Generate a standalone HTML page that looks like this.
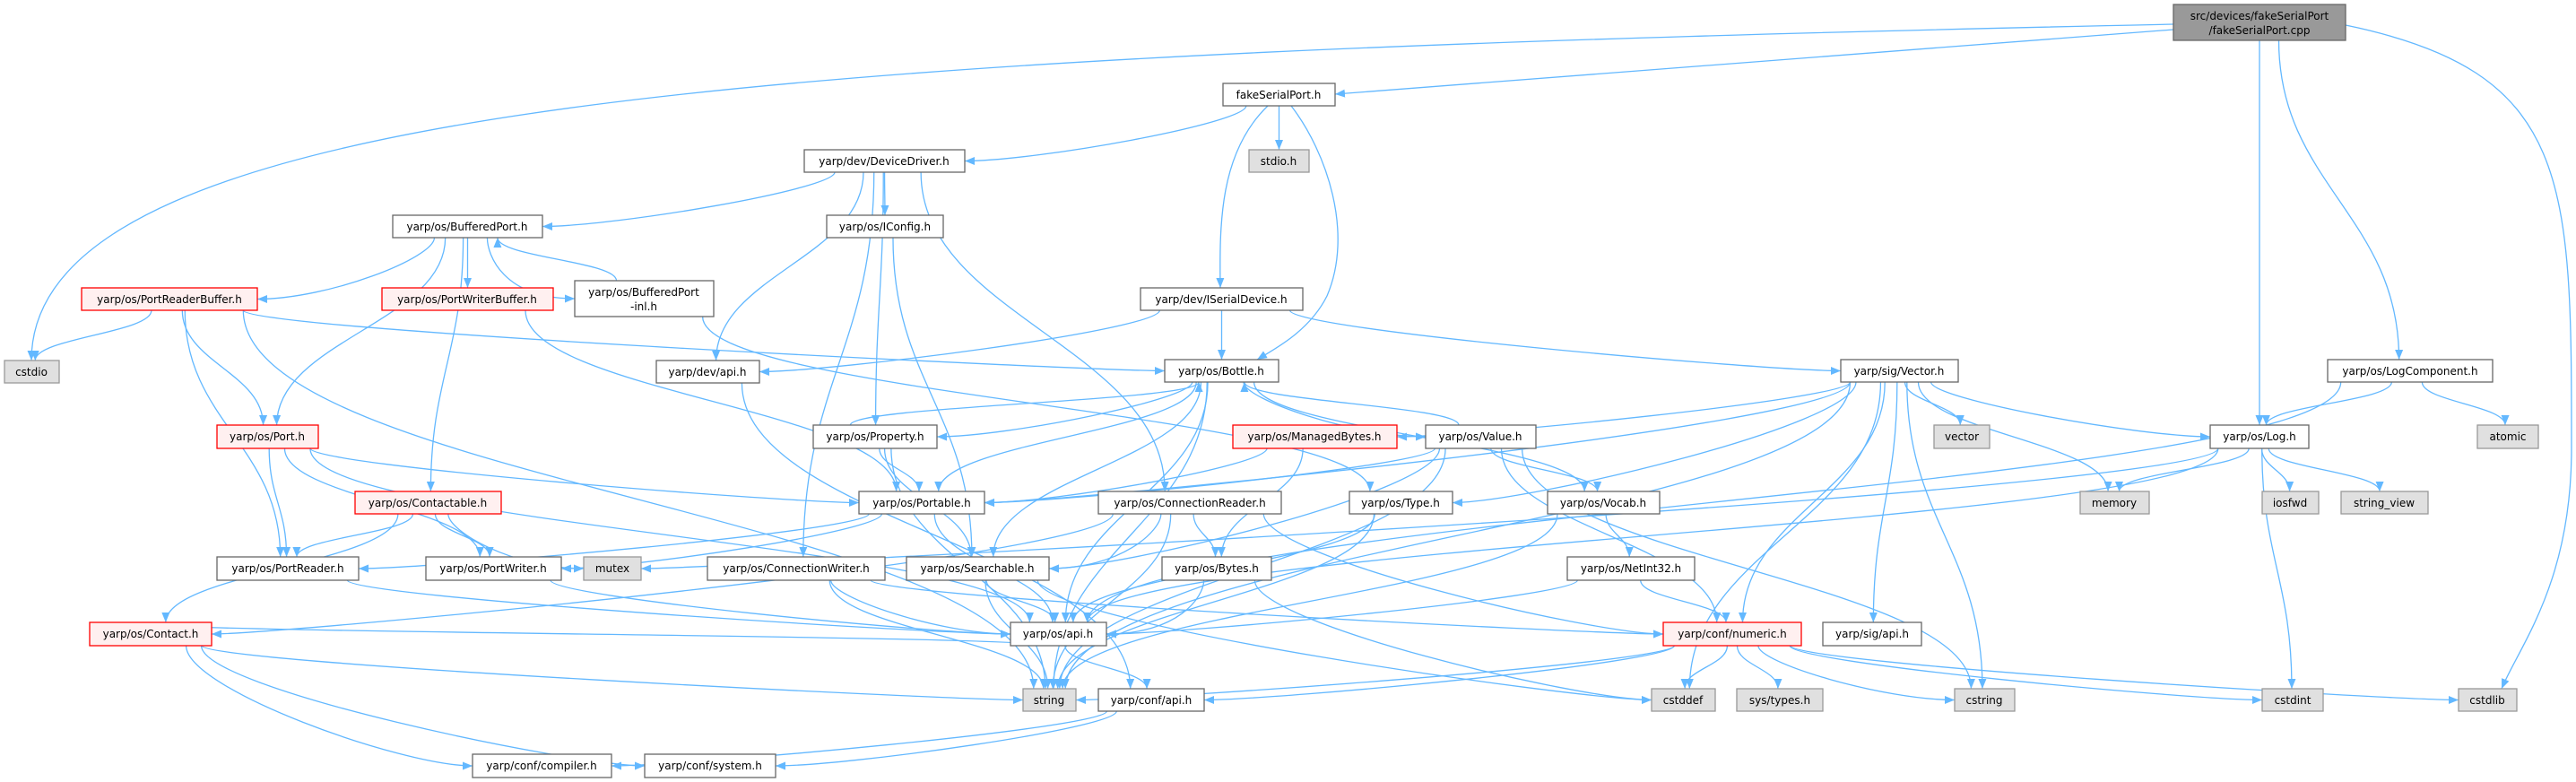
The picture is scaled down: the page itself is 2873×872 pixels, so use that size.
<!DOCTYPE html>
<html><head><meta charset="utf-8">
<style>
html,body{margin:0;padding:0;background:#fff;}
svg{display:block;}
text{font-family:"DejaVu Sans","Liberation Sans",sans-serif;font-size:12px;fill:#000;text-anchor:middle;}
.w{fill:#fff;stroke:#666;stroke-width:1.3;}
.g{fill:#e0e0e0;stroke:#999;stroke-width:1.3;}
.r{fill:#fff0f0;stroke:#f00;stroke-width:1.3;}
.root{fill:#999;stroke:#666;stroke-width:1.3;}
#edges path{fill:none;stroke:#63b8ff;stroke-width:1.3;}
</style></head>
<body>
<svg id="s" width="2873" height="872" viewBox="0 0 2873 872" xmlns="http://www.w3.org/2000/svg">
<defs><marker id="a" markerWidth="11" markerHeight="9" refX="11" refY="4.5" orient="auto" markerUnits="userSpaceOnUse"><path d="M0,0L11,4.5L0,9z" fill="#63b8ff"/></marker></defs>
<g id="edges"></g>
<g id="nodes">
<rect class="root" x="2424" y="5" width="192" height="40"/><text x="2520" y="22">src/devices/fakeSerialPort</text><text x="2520" y="38">/fakeSerialPort.cpp</text>
<rect class="g" x="5" y="402" width="61" height="25"/><text x="35" y="419">cstdio</text>
<rect class="w" x="1364" y="93" width="125" height="25"/><text x="1426" y="110">fakeSerialPort.h</text>
<rect class="g" x="1393" y="167" width="67" height="25"/><text x="1426" y="184">stdio.h</text>
<rect class="w" x="897" y="167" width="179" height="25"/><text x="986" y="184">yarp/dev/DeviceDriver.h</text>
<rect class="w" x="1272" y="321" width="181" height="25"/><text x="1362" y="338">yarp/dev/ISerialDevice.h</text>
<rect class="w" x="438" y="240" width="167" height="25"/><text x="521" y="257">yarp/os/BufferedPort.h</text>
<rect class="w" x="922" y="240" width="130" height="25"/><text x="987" y="257">yarp/os/IConfig.h</text>
<rect class="r" x="91" y="321" width="196" height="25"/><text x="189" y="338">yarp/os/PortReaderBuffer.h</text>
<rect class="r" x="426" y="321" width="191" height="25"/><text x="521" y="338">yarp/os/PortWriterBuffer.h</text>
<rect class="w" x="641" y="313" width="155" height="40"/><text x="718" y="330">yarp/os/BufferedPort</text><text x="718" y="346">-inl.h</text>
<rect class="w" x="732" y="402" width="115" height="25"/><text x="789" y="419">yarp/dev/api.h</text>
<rect class="w" x="1299" y="401" width="127" height="25"/><text x="1362" y="418">yarp/os/Bottle.h</text>
<rect class="w" x="2053" y="401" width="131" height="25"/><text x="2118" y="418">yarp/sig/Vector.h</text>
<rect class="w" x="2596" y="401" width="184" height="25"/><text x="2688" y="418">yarp/os/LogComponent.h</text>
<rect class="g" x="2763" y="474" width="68" height="26"/><text x="2797" y="491">atomic</text>
<rect class="r" x="242" y="474" width="113" height="26"/><text x="298" y="491">yarp/os/Port.h</text>
<rect class="w" x="907" y="474" width="138" height="26"/><text x="976" y="491">yarp/os/Property.h</text>
<rect class="r" x="1375" y="474" width="183" height="26"/><text x="1466" y="491">yarp/os/ManagedBytes.h</text>
<rect class="w" x="1590" y="474" width="123" height="26"/><text x="1651" y="491">yarp/os/Value.h</text>
<rect class="w" x="2465" y="474" width="110" height="26"/><text x="2520" y="491">yarp/os/Log.h</text>
<rect class="g" x="2157" y="474" width="62" height="26"/><text x="2188" y="491">vector</text>
<rect class="g" x="2320" y="548" width="77" height="25"/><text x="2358" y="565">memory</text>
<rect class="g" x="2523" y="548" width="63" height="25"/><text x="2554" y="565">iosfwd</text>
<rect class="g" x="2611" y="548" width="97" height="25"/><text x="2659" y="565">string_view</text>
<rect class="r" x="396" y="548" width="163" height="25"/><text x="477" y="565">yarp/os/Contactable.h</text>
<rect class="w" x="958" y="548" width="140" height="25"/><text x="1028" y="565">yarp/os/Portable.h</text>
<rect class="w" x="1225" y="548" width="204" height="25"/><text x="1327" y="565">yarp/os/ConnectionReader.h</text>
<rect class="w" x="1505" y="548" width="115" height="25"/><text x="1562" y="565">yarp/os/Type.h</text>
<rect class="w" x="1726" y="548" width="125" height="25"/><text x="1788" y="565">yarp/os/Vocab.h</text>
<rect class="w" x="242" y="621" width="158" height="26"/><text x="321" y="638">yarp/os/PortReader.h</text>
<rect class="w" x="475" y="621" width="151" height="26"/><text x="550" y="638">yarp/os/PortWriter.h</text>
<rect class="g" x="651" y="621" width="64" height="26"/><text x="683" y="638">mutex</text>
<rect class="w" x="789" y="621" width="198" height="26"/><text x="888" y="638">yarp/os/ConnectionWriter.h</text>
<rect class="w" x="1011" y="621" width="159" height="26"/><text x="1090" y="638">yarp/os/Searchable.h</text>
<rect class="w" x="1296" y="621" width="122" height="26"/><text x="1357" y="638">yarp/os/Bytes.h</text>
<rect class="w" x="1748" y="621" width="142" height="26"/><text x="1819" y="638">yarp/os/NetInt32.h</text>
<rect class="r" x="100" y="694" width="136" height="26"/><text x="168" y="711">yarp/os/Contact.h</text>
<rect class="w" x="1127" y="694" width="107" height="26"/><text x="1180" y="711">yarp/os/api.h</text>
<rect class="r" x="1855" y="694" width="154" height="26"/><text x="1932" y="711">yarp/conf/numeric.h</text>
<rect class="w" x="2033" y="694" width="110" height="26"/><text x="2088" y="711">yarp/sig/api.h</text>
<rect class="g" x="1141" y="768" width="59" height="25"/><text x="1170" y="785">string</text>
<rect class="w" x="1225" y="768" width="118" height="25"/><text x="1284" y="785">yarp/conf/api.h</text>
<rect class="g" x="1842" y="768" width="71" height="25"/><text x="1877" y="785">cstddef</text>
<rect class="g" x="1937" y="768" width="96" height="25"/><text x="1985" y="785">sys/types.h</text>
<rect class="g" x="2180" y="768" width="67" height="25"/><text x="2213" y="785">cstring</text>
<rect class="g" x="2523" y="768" width="68" height="25"/><text x="2557" y="785">cstdint</text>
<rect class="g" x="2742" y="768" width="65" height="25"/><text x="2774" y="785">cstdlib</text>
<rect class="w" x="527" y="841" width="155" height="26"/><text x="604" y="858">yarp/conf/compiler.h</text>
<rect class="w" x="719" y="841" width="146" height="26"/><text x="792" y="858">yarp/conf/system.h</text>
</g>
</svg>
<script>
var N={root:[2424,5,2616,45],cstdio:[5,402,66,427],fsp:[1364,93,1489,118],stdio:[1393,167,1460,192],dd:[897,167,1076,192],isd:[1272,321,1453,346],bp:[438,240,605,265],icfg:[922,240,1052,265],prb:[91,321,287,346],pwb:[426,321,617,346],bpi:[641,313,796,353],devapi:[732,402,847,427],bottle:[1299,401,1426,426],vec:[2053,401,2184,426],logc:[2596,401,2780,426],atomic:[2763,474,2831,500],port:[242,474,355,500],prop:[907,474,1045,500],mb:[1375,474,1558,500],value:[1590,474,1713,500],log:[2465,474,2575,500],vector:[2157,474,2219,500],memory:[2320,548,2397,573],iosfwd:[2523,548,2586,573],sv:[2611,548,2708,573],ctb:[396,548,559,573],portable:[958,548,1098,573],cr:[1225,548,1429,573],type:[1505,548,1620,573],vocab:[1726,548,1851,573],preader:[242,621,400,647],pwriter:[475,621,626,647],mutex:[651,621,715,647],cw:[789,621,987,647],search:[1011,621,1170,647],bytes:[1296,621,1418,647],ni32:[1748,621,1890,647],contact:[100,694,236,720],osapi:[1127,694,1234,720],numeric:[1855,694,2009,720],sigapi:[2033,694,2143,720],string:[1141,768,1200,793],confapi:[1225,768,1343,793],cstddef:[1842,768,1913,793],systypes:[1937,768,2033,793],cstring:[2180,768,2247,793],cstdint:[2523,768,2591,793],cstdlib:[2742,768,2807,793],compiler:[527,841,682,867],system:[719,841,865,867]};
var E="fsp dd,fsp stdio,root log,root logc,dd bp,dd icfg,dd devapi,dd prop,dd cw,dd cr,bp prb,bp pwb,bp bpi,bp port,bp ctb,bpi bp,bpi type,prb cstdio,prb port,prb preader,prb bottle,prb string,pwb portable,icfg search,isd devapi,isd bottle,isd vec,devapi confapi,bottle prop,bottle portable,bottle search,bottle value,bottle vocab,bottle string,bottle osapi,vec mb,vec portable,vec type,vec log,vec vector,vec memory,vec cstring,vec cstddef,vec sigapi,vec string,vec numeric,logc log,logc atomic,logc osapi,log memory,log iosfwd,log sv,log cstdint,log osapi,log mutex,port portable,port preader,port pwriter,port osapi,prop bottle,prop portable,prop search,prop string,mb portable,mb bytes,value bottle,value portable,value search,value vocab,value numeric,value cstring,value string,ctb preader,ctb pwriter,ctb mutex,ctb contact,portable preader,portable pwriter,portable osapi,cr search,cr bytes,cr string,cr numeric,cr contact,type osapi,type string,vocab ni32,vocab string,preader osapi,pwriter osapi,cw osapi,cw numeric,cw string,search osapi,search string,search cstddef,bytes osapi,bytes cstddef,ni32 osapi,ni32 numeric,contact string,contact compiler,contact system,contact osapi,osapi confapi,numeric cstddef,numeric systypes,numeric cstring,numeric cstdint,numeric cstdlib,numeric confapi,numeric string,confapi compiler,confapi system".split(",");
var g=document.getElementById("edges"),h="";
function P(d){h+='<path d="'+d+'" marker-end="url(#a)"/>';}
E.forEach(function(e){var p=e.split(" "),s=N[p[0]],t=N[p[1]];
var sx=(s[0]+s[2])/2,tx=(t[0]+t[2])/2,sx1,sy,tx1,ty;
if(t[1]>=s[3]){
 sy=s[3];ty=t[1];var dy=ty-sy,dx=tx-sx;
 sx1=sx+Math.max(-0.42,Math.min(0.42,dx/1500))*(s[2]-s[0]);
 if(Math.abs(dx)>3.5*dy && dy<160){
  ty=(t[1]+t[3])/2; tx1=dx>0?t[0]:t[2];
  P("M"+sx1+","+sy+" C"+sx1+","+(sy+dy*0.4)+" "+(tx1-(dx>0?80:-80))+","+ty+" "+tx1+","+ty);
 } else {
  tx1=tx-Math.max(-0.3,Math.min(0.3,dx/2500))*(t[2]-t[0]);
  P("M"+sx1+","+sy+" C"+sx1+","+(sy+dy*0.45)+" "+tx1+","+(ty-dy*0.45)+" "+tx1+","+ty);
 }
} else {
 sy=s[1];ty=t[3];var dy=sy-ty;
 sx1=sx-(s[2]-s[0])*0.2;tx1=tx+(t[2]-t[0])*0.2*(sx<tx?-1:1);
 P("M"+sx1+","+sy+" C"+sx1+","+(sy-dy*0.45)+" "+tx1+","+(ty+dy*0.45)+" "+tx1+","+ty);
}});
P("M2424,27 C900,60 35,110 35,402");
P("M2424,33 L1489,105");
P("M2616,28 C2868,80 2868,200 2868,500 C2868,650 2810,720 2790,768");
P("M1414,118 C1360,170 1360,250 1361,321");
P("M1440,118 C1480,170 1510,260 1480,330 C1460,370 1420,390 1402,401");
g.innerHTML=h;
</script>
</body></html>
